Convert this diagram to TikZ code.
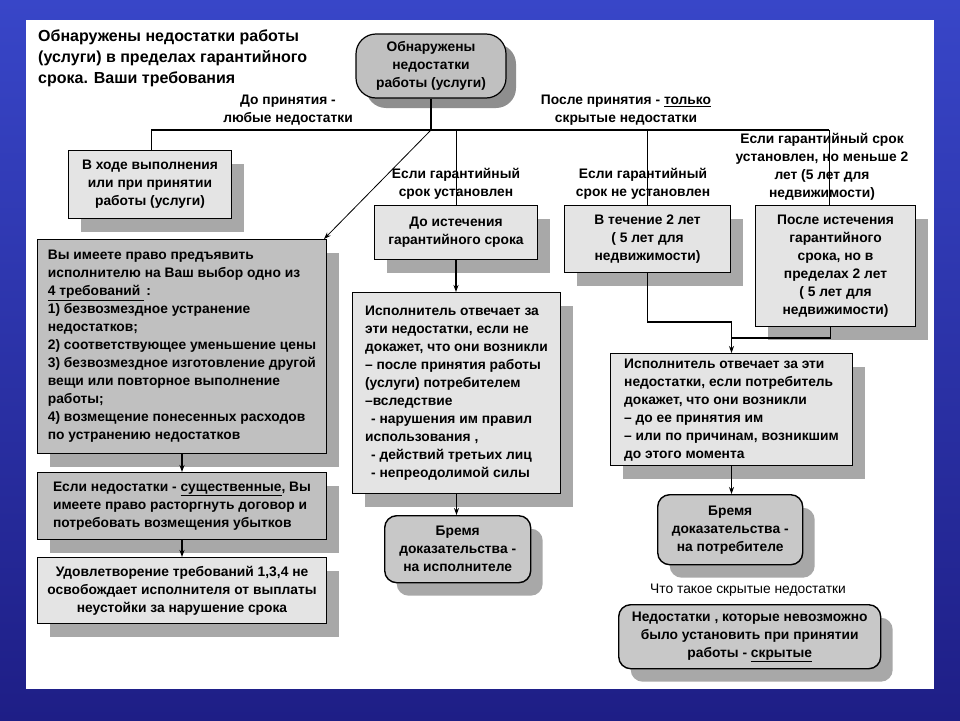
\documentclass[tikz,border=0pt]{standalone}
\usepackage{fontspec}
\setmainfont{Liberation Sans}
\usetikzlibrary{shadows,arrows.meta}
\definecolor{lightfill}{HTML}{E4E4E4}
\definecolor{darkfill}{HTML}{C0C0C0}
\definecolor{roundfill}{HTML}{C8C8C8}
\definecolor{shadowc}{HTML}{A8A8A8}
\definecolor{shadowdark}{HTML}{8E8E8E}
\definecolor{blueA}{HTML}{3846C8}
\definecolor{blueB}{HTML}{1E1E86}
\begin{document}
\begin{tikzpicture}[x=1pt,y=-1pt,
  txt/.style={font=\fontsize{13.8}{18}\selectfont\bfseries},
  box/.style={txt, draw=black, line width=1pt, anchor=north west, inner sep=5pt,
    drop shadow={shadow xshift=12pt, shadow yshift=-13pt, fill=shadowc, opacity=1}},
  lightbox/.style={box, fill=lightfill},
  darkbox/.style={box, fill=darkfill},
  roundbox/.style={box, fill=roundfill, rounded corners=12pt, line width=1.4pt, align=center},
  lbl/.style={txt, align=center, inner sep=0pt},
  thinline/.style={line width=0.8pt},
  thickline/.style={line width=1.6pt},
  arr/.style={-{Stealth[length=7pt,width=5pt]}}
]
\useasboundingbox (0,0) rectangle (960,720);
% background
\shade[top color=blueA, bottom color=blueB] (0,0) rectangle (960,720);
\fill[white] (26,20) rectangle (934,689);

% title
\node[anchor=north west, align=left, inner sep=0pt,
  font=\fontsize{16}{21}\selectfont\bfseries] (title) at (38,30)
  {Обнаружены недостатки работы\\(услуги) в пределах гарантийного\\срока. Ваши требования};

% top node
\node[txt, draw=black, line width=1.2pt, fill=darkfill, rounded corners=20pt,
  minimum width=150pt, minimum height=64pt, align=center, inner sep=3pt,
  drop shadow={shadow xshift=10pt, shadow yshift=-10pt, fill=shadowdark, opacity=1}]
  (top) at (431,66) {Обнаружены\\недостатки\\работы (услуги)};

% branch labels
\node[lbl] (lDo) at (288,110) {До принятия -\\любые недостатки};
\node[lbl] (lPo) at (626,110) {После принятия - \underline{только}\\скрытые недостатки};
\node[lbl] (l1) at (456,184) {Если гарантийный\\срок установлен};
\node[lbl] (l2) at (643,184) {Если гарантийный\\срок не установлен};
\node[lbl] (l3) at (822,167) {Если гарантийный срок\\установлен, но меньше 2\\лет (5 лет для\\недвижимости)};

% left column
\node[lightbox, minimum width=163pt, minimum height=68pt, align=center] (b1) at (68,150)
  {В ходе выполнения\\или при принятии\\работы (услуги)};
\node[darkbox, minimum width=289pt, minimum height=214pt, align=left] (big) at (37,239)
  {Вы имеете право предъявить\\исполнителю на Ваш выбор одно из\\\underline{4 требований\ }\,:\\1) безвозмездное устранение\\недостатков;\\2) соответствующее уменьшение цены\\3) безвозмездное изготовление другой\\вещи или повторное выполнение\\работы;\\4) возмещение понесенных расходов\\по устранению недостатков};
\node[darkbox, minimum width=289pt, minimum height=67pt, align=left] (b3) at (37,472)
  {Если недостатки - \underline{существенные}, Вы\\имеете право расторгнуть договор и\\потребовать возмещения убытков};
\node[lightbox, minimum width=289pt, minimum height=66pt, align=center] (b4) at (37,557)
  {Удовлетворение  требований 1,3,4 не\\освобождает исполнителя от выплаты\\неустойки за нарушение срока};

% middle column
\node[lightbox, minimum width=163pt, minimum height=54pt, align=center] (dm) at (374,205)
  {До истечения\\гарантийного срока};
\node[lightbox, minimum width=208pt, minimum height=201pt, align=left] (im) at (352,292)
  {Исполнитель отвечает за\\эти недостатки, если не\\докажет, что они возникли\\– после принятия работы\\(услуги) потребителем\\–вследствие\\\hspace*{6pt}- нарушения им правил\\использования ,\\\hspace*{6pt}- действий третьих лиц\\\hspace*{6pt}- непреодолимой силы};
\node[roundbox, minimum width=146pt, minimum height=67pt] (bi) at (384,515)
  {Бремя\\доказательства -\\на исполнителе};

% right columns
\node[lightbox, minimum width=166pt, minimum height=67pt, align=center] (vt) at (564,205)
  {В течение 2 лет\\( 5 лет для\\недвижимости)};
\node[lightbox, minimum width=160pt, minimum height=121pt, align=center] (pi) at (755,205)
  {После истечения\\гарантийного\\срока, но в\\пределах 2 лет\\( 5 лет для\\недвижимости)};
\node[lightbox, minimum width=242pt, minimum height=112pt, align=left] (ip) at (610,353)
  {Исполнитель отвечает за эти\\недостатки, если потребитель\\докажет, что они возникли\\– до ее принятия им\\– или по причинам, возникшим\\до этого момента};
\node[roundbox, minimum width=145pt, minimum height=70pt] (bp) at (657,494)
  {Бремя\\доказательства -\\на потребителе};
\node[font=\fontsize{13.8}{18}\selectfont, inner sep=0pt] (q) at (748,590) {Что такое скрытые недостатки};
\node[roundbox, minimum width=262pt, minimum height=64pt] (fb) at (618,604)
  {Недостатки , которые невозможно\\было установить при принятии\\работы  - \underline{скрытые}};

% connectors
\coordinate (busL) at (151,130);
\coordinate (busC) at (431,130);
\coordinate (busR) at (829,130);
\draw[thickline] (top.south) -- (busC);
\draw[thickline] (busL) -- (busR);
\draw[thinline] (busL) -- (busL |- b1.north);
\draw[thinline, arr] (busC) -- ([xshift=-3pt]big.north east);
\draw[thinline] (dm.north |- busL) -- (dm.north);
\draw[thinline] (vt.north |- busL) -- (vt.north);
\draw[thinline] (busR) -- (busR |- pi.north);
\draw[thickline, arr] (big.south) -- (big.south |- b3.north);
\draw[thickline, arr] (b3.south) -- (b3.south |- b4.north);
\draw[thickline, arr] (dm.south) -- (dm.south |- im.north);
\draw[thickline, arr] (im.south) -- (im.south |- bi.north);
\draw[thickline, arr] (vt.south) |- ([yshift=31pt]ip.north) -- (ip.north);
\draw[thickline] ([xshift=-5pt]pi.south) |- ([yshift=15pt]ip.north);
\draw[thickline, arr] (ip.south) -- (ip.south |- bp.north);
\end{tikzpicture}
\end{document}
